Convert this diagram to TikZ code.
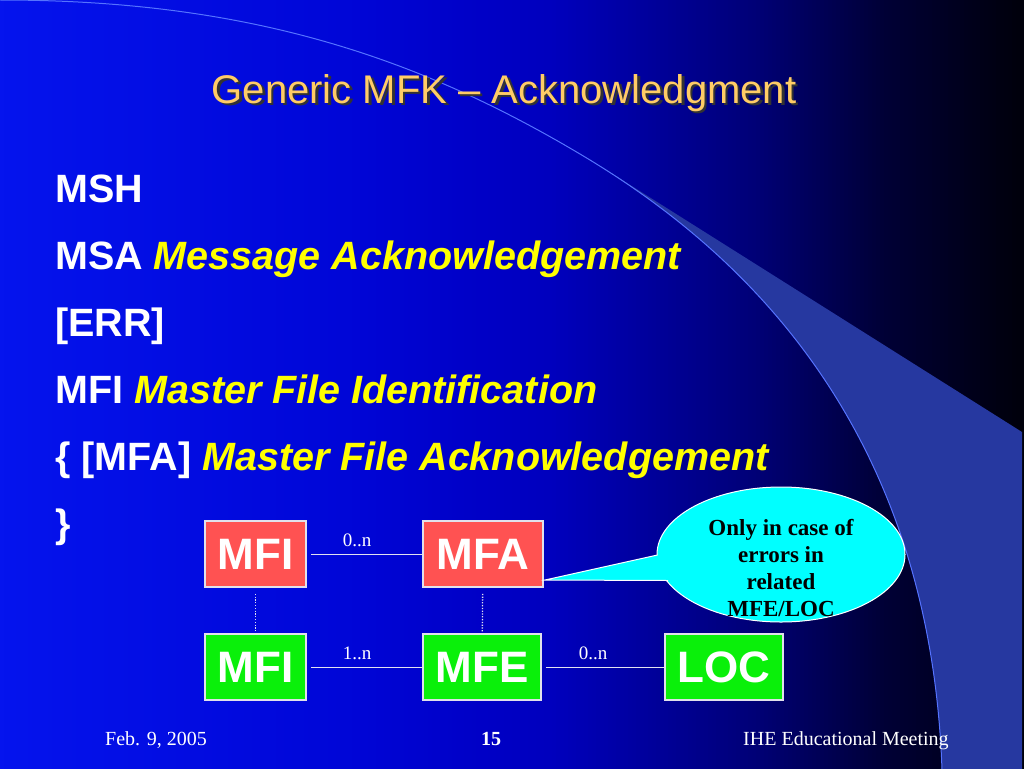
\documentclass[tikz,border=0pt]{standalone}
\usepackage{fontspec}
\setmainfont{Liberation Serif}
\setsansfont{Liberation Sans}
\usetikzlibrary{shapes.geometric}
\definecolor{titlec}{RGB}{255,204,102}
\definecolor{ylw}{RGB}{255,255,0}
\definecolor{bandc}{RGB}{38,56,160}
\definecolor{arcc}{RGB}{85,115,255}
\definecolor{redbox}{RGB}{255,82,82}
\definecolor{greenbox}{RGB}{10,240,10}
\definecolor{boxborder}{RGB}{225,225,235}
\definecolor{linec}{RGB}{225,225,240}
\definecolor{notec}{RGB}{0,255,255}
\begin{document}
\begin{tikzpicture}[x=1pt,y=-1pt,
  bodytxt/.style={anchor=base west, inner sep=0pt, text=white,
    font=\sffamily\bfseries\fontsize{39.5}{45}\selectfont},
  mbox/.style={draw=boxborder, line width=1.5pt, text=white, inner sep=0pt,
    minimum height=66pt, font=\sffamily\bfseries\fontsize{44}{50}\selectfont},
  redb/.style={mbox, fill=redbox},
  greenb/.style={mbox, fill=greenbox},
  conn/.style={draw=linec, line width=1pt},
  dotline/.style={draw=linec, line width=1.3pt, dash pattern=on 1.3pt off 1.5pt},
  lab/.style={anchor=base, inner sep=0pt, text=white, font=\fontsize{19}{21}\selectfont},
  foot/.style={anchor=base west, inner sep=0pt, text=white, font=\fontsize{20}{22}\selectfont},
  notestyle/.style={ellipse, draw=white, line width=1pt, fill=notec, inner sep=0pt}
]
\useasboundingbox (0,0) rectangle (1024,768);
% background gradient
\foreach \x in {0,4,...,1020}{
  \pgfmathsetmacro\tA{\x/350}
  \pgfmathsetmacro\tB{(\x-350)/200}
  \pgfmathsetmacro\tC{(\x-550)/200}
  \pgfmathsetmacro\tD{(\x-750)/130}
  \pgfmathsetmacro\tE{(\x-880)/144}
  \pgfmathtruncatemacro\colR{max(0,5-\x/70)}
  \pgfmathtruncatemacro\colG{max(0,20-\x/25)}
  \pgfmathtruncatemacro\colB{\x<350 ? 238-23*\tA : (\x<550 ? 215-25*\tB : (\x<750 ? 190-70*\tC : (\x<880 ? 120-65*\tD : 55-45*\tE)))}
  \definecolor{stripc}{RGB}{\colR,\colG,\colB}
  \fill[stripc] (\x,-1) rectangle (\x+4.6,769);
}
% swoosh band
\begin{scope}
  \clip (0,0) .. controls (250,0) and (420,58) .. (585,157) .. controls (735,247) and (930,420) .. (942,770) -- (1030,770) -- (1030,-5) -- cycle;
  \fill[bandc] (600,166) -- (1022,432) -- (1022,770) -- (600,770) -- cycle;
\end{scope}
\draw[arcc, line width=1pt] (0,0) .. controls (250,0) and (420,58) .. (585,157) .. controls (735,247) and (930,420) .. (942,770);
% title
\node[anchor=base, inner sep=0pt, text=black!80, font=\sffamily\fontsize{40}{46}\selectfont] (titleshadow) at (506.5,105.5) {Generic MFK – Acknowledgment};
\node[anchor=base, inner sep=0pt, text=titlec, font=\sffamily\fontsize{40}{46}\selectfont] (title) at (504,103) {Generic MFK – Acknowledgment};
% body
\node[bodytxt] (l1) at (55,202) {MSH};
\node[bodytxt] (l2) at (55,269) {MSA \textcolor{ylw}{\itshape Message Acknowledgement}};
\node[bodytxt] (l3) at (55,336) {[ERR]};
\node[bodytxt] (l4) at (55,403) {MFI \textcolor{ylw}{\itshape Master File Identification}};
\node[bodytxt] (l5) at (55,470) {\{ [MFA] \textcolor{ylw}{\itshape Master File Acknowledgement}};
\node[bodytxt] (l6) at (55,537) {\}};
% boxes
\node[redb, minimum width=101pt] (mfi1) at (255.5,554) {MFI};
\node[redb, minimum width=120pt] (mfa) at (483,554) {MFA};
\node[greenb, minimum width=101pt] (mfi2) at (255.5,667) {MFI};
\node[greenb, minimum width=118pt] (mfe) at (482,667) {MFE};
\node[greenb, minimum width=118pt] (loc) at (724,667) {LOC};
% connectors
\draw[conn, shorten <=4pt] (mfi1) -- (mfa);
\draw[conn, shorten <=4pt] (mfi2) -- (mfe);
\draw[conn, shorten <=4pt] (mfe) -- (loc);
\draw[dotline, shorten <=6pt, shorten >=1pt] (mfi1) -- (mfi2);
\draw[dotline, shorten <=6pt, shorten >=1pt] (mfa) -- (mfe);
\node[lab] (lab1) at (357,546) {0..n};
\node[lab] (lab2) at (357,659) {1..n};
\node[lab] (lab3) at (593,659) {0..n};
% callout
\node[notestyle, minimum width=248pt, minimum height=135pt] (note) at (781,554.5) {};
\coordinate (tip) at (545,580);
\fill[notec] (note.west) ++(1,0.5) coordinate (pa) -- (tip) -- (668,580.5) coordinate (pb) -- (700,565) -- cycle;
\draw[white, line width=1pt, line join=miter] (pa) -- (tip) -- (pb);
\node[align=center, inner sep=0pt, text=black, font=\bfseries\fontsize{23}{27}\selectfont] (notetext) at (781,568) {Only in case of\\errors in\\related\\MFE/LOC};
% footer
\node[foot] (date) at (105,745) {Feb. 9, 2005};
\node[anchor=base, inner sep=0pt, text=white, font=\bfseries\fontsize{20}{22}\selectfont] (page) at (491,745) {15};
\node[foot] (meeting) at (743,745) {IHE Educational Meeting};
\end{tikzpicture}
\end{document}
